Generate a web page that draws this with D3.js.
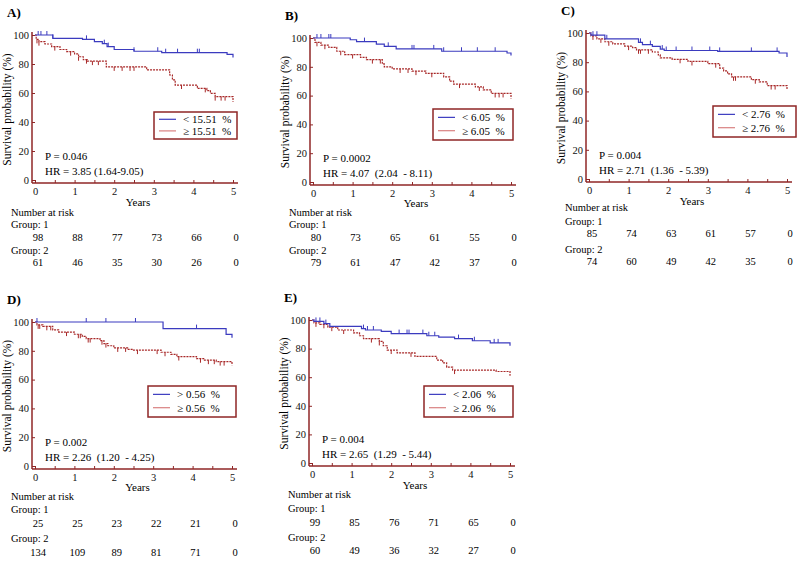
<!DOCTYPE html>
<html>
<head>
<meta charset="utf-8">
<script src="https://cdn.jsdelivr.net/npm/d3@7"></script>
<style>
  body { margin: 0; background: #fff; }
  svg, svg text { font-family: "Liberation Serif", "Times New Roman", serif; }
</style>
</head>
<body>
<script>
// x ticks (years) and y ticks (%)
const years = [0, 1, 2, 3, 4, 5];
const yTicks = [0, 20, 40, 60, 80, 100];

// A)
const aTime1 = [0, 0.45, 1.2, 1.5, 1.7, 1.82, 2.0, 2.5, 3.2, 4.85, 5];
const aSurv1 = [100, 97.7, 97, 95.5, 94, 92, 90, 88.8, 87.8, 86.7, 84.5];
const aCens1 = [0.08, 0.15, 0.3, 0.45, 1.3, 1.75, 1.85, 2.5, 3.1, 3.3, 3.6, 4.1, 4.15];
const aTime2 = [0, 0.03, 0.1, 0.25, 0.42, 0.63, 0.8, 1.0, 1.1, 1.22, 1.32, 1.8, 2.82, 3.4, 3.47, 3.54, 4.1, 4.34, 4.43, 4.55, 5];
const aSurv2 = [100, 97, 95.4, 93.8, 92, 90, 88.5, 87, 85, 83, 82, 78, 75.9, 72.4, 69, 65.5, 63.2, 61.6, 59.8, 57.5, 54];
const aCens2 = [0.05, 0.1, 0.5, 0.9, 1.1, 1.3, 1.45, 1.6, 2.0, 2.2, 2.4, 2.5, 3.7, 4.3, 4.55, 4.7, 4.8];
const aRisk1 = [98, 88, 77, 73, 66, 0];
const aRisk2 = [61, 46, 35, 30, 26, 0];
const aLegend = ["< 15.51  %", "\u2265 15.51  %"];
const aStats = ["P = 0.046", "HR = 3.85 (1.64-9.05)"];

// B)
const bTime1 = [0, 0.94, 1.1, 1.6, 1.8, 2.1, 3.25, 4.9, 5];
const bSurv1 = [100, 98.8, 97.5, 95.8, 94.2, 92.4, 90.8, 89.6, 87.8];
const bCens1 = [0.1, 0.2, 0.4, 0.45, 1.3, 1.9, 2.5, 2.55, 3.05, 3.3, 3.75, 4.15, 4.6];
const bTime2 = [0, 0.05, 0.2, 0.4, 0.6, 0.8, 1.2, 1.35, 1.75, 1.8, 2.0, 2.5, 2.85, 3.3, 3.45, 3.55, 4.1, 4.3, 4.5, 5];
const bSurv2 = [100, 97, 95, 93.5, 90.8, 88.5, 86.5, 85, 82, 80, 78.5, 77, 75.5, 73, 70, 68, 66, 64, 61.5, 58];
const bCens2 = [0.1, 0.3, 0.7, 1.0, 1.5, 1.7, 2.2, 2.4, 2.6, 3.0, 3.7, 4.2, 4.6, 4.7, 4.8];
const bRisk1 = [80, 73, 65, 61, 55, 0];
const bRisk2 = [79, 61, 47, 42, 37, 0];
const bLegend = ["< 6.05  %", "\u2265 6.05  %"];
const bStats = ["P = 0.0002", "HR = 4.07  (2.04  - 8.11)"];

// C)
const cTime1 = [0, 0.05, 0.4, 1.25, 1.35, 1.6, 1.8, 1.9, 3.25, 4.8, 5];
const cSurv1 = [100, 98.5, 96, 93.6, 92, 90.8, 89, 88, 87.4, 86.3, 83.5];
const cCens1 = [0.1, 0.2, 0.45, 1.3, 1.55, 1.85, 1.95, 2.2, 2.6, 3.05, 3.3, 4.1, 4.75];
const cTime2 = [0, 0.05, 0.2, 0.4, 0.6, 0.9, 1.1, 1.2, 1.6, 1.75, 1.8, 2.1, 2.5, 3.0, 3.3, 3.4, 3.5, 3.6, 4.1, 4.3, 4.5, 5];
const cSurv2 = [100, 98, 96, 94, 92.5, 91, 90, 88.5, 87, 85, 83, 82, 80.5, 79, 76, 74, 72, 70, 68, 66.5, 64, 61];
const cCens2 = [0.1, 0.3, 0.5, 1.0, 1.25, 1.3, 1.5, 2.3, 2.6, 3.2, 3.65, 3.7, 4.2, 4.6, 4.7];
const cRisk1 = [85, 74, 63, 61, 57, 0];
const cRisk2 = [74, 60, 49, 42, 35, 0];
const cLegend = ["< 2.76  %", "\u2265 2.76  %"];
const cStats = ["P = 0.004", "HR = 2.71  (1.36  - 5.39)"];

// D)
const dTime1 = [0, 3.25, 4.85, 5];
const dSurv1 = [100, 95.4, 91.4, 89];
const dCens1 = [0.05, 1.3, 1.8, 2.55, 4.1];
const dTime2 = [0, 0.05, 0.2, 0.45, 0.6, 1.0, 1.2, 1.3, 1.65, 1.75, 1.85, 2.0, 2.35, 2.5, 3.2, 3.45, 3.6, 4.1, 4.3, 4.6, 5];
const dSurv2 = [100, 98, 97, 94.5, 93, 91.5, 90, 88.5, 87, 85, 83.5, 82, 81, 80.5, 79, 77.5, 76, 74.5, 73.5, 72.5, 70];
const dCens2 = [0.08, 0.12, 0.3, 0.4, 0.8, 1.1, 1.15, 1.35, 1.4, 1.7, 1.8, 2.1, 2.3, 2.6, 3.1, 3.3, 3.65, 4.2, 4.4, 4.55, 4.7, 4.8];
const dRisk1 = [25, 25, 23, 22, 21, 0];
const dRisk2 = [134, 109, 89, 81, 71, 0];
const dLegend = ["> 0.56  %", "\u2265 0.56  %"];
const dStats = ["P = 0.002", "HR = 2.26  (1.20  - 4.25)"];

// E)
const eTime1 = [0, 0.05, 0.3, 0.45, 1.25, 1.35, 1.75, 2.0, 2.9, 3.2, 3.6, 4.05, 4.5, 5];
const eSurv1 = [100, 99, 97.5, 95.5, 94, 93, 92, 90.5, 89, 88, 87, 85.5, 84, 82];
const eCens1 = [0.1, 0.2, 0.35, 1.3, 1.4, 1.55, 2.2, 2.4, 2.45, 2.8, 2.95, 3.1, 3.7, 4.1, 4.6, 4.7];
const eTime2 = [0, 0.05, 0.2, 0.4, 0.65, 1.05, 1.2, 1.3, 1.7, 1.8, 1.9, 2.15, 2.6, 3.15, 3.3, 3.4, 3.55, 4.65, 5];
const eSurv2 = [100, 98, 97, 95, 93, 91, 89, 87, 85, 82, 79, 77, 74.5, 72, 70, 67, 65, 64, 61];
const eCens2 = [0.1, 0.3, 0.5, 0.8, 1.5, 1.7, 2.0, 2.5, 3.6];
const eRisk1 = [99, 85, 76, 71, 65, 0];
const eRisk2 = [60, 49, 36, 32, 27, 0];
const eLegend = ["< 2.06  %", "\u2265 2.06  %"];
const eStats = ["P = 0.004", "HR = 2.65  (1.29  - 5.44)"];

const BLUE = "#3b3bbf", RED = "#a82828", AXIS = "#8f2626";

const W = 798, H = 561;
const svg = d3.select("body").append("svg")
  .attr("width", W)
  .attr("height", H)
  .attr("font-family", "Liberation Serif, serif");

// placement of each panel on the page; rows = baselines of Years, Number at risk,
// Group 1, group 1 counts, Group 2, group 2 counts
const panels = [
  {label: "A)", x0: 35, x5: 233, y100: 35, y0: 180, box: [154, 112, 83, 27], rows: [206, 216, 228, 241, 254, 266],
   t1: aTime1, s1: aSurv1, c1: aCens1, t2: aTime2, s2: aSurv2, c2: aCens2, r1: aRisk1, r2: aRisk2, leg: aLegend, st: aStats},
  {label: "B)", x0: 313, x5: 511, y100: 38, y0: 182, box: [433, 109, 80, 31], rows: [207, 216, 228, 241, 254, 266],
   t1: bTime1, s1: bSurv1, c1: bCens1, t2: bTime2, s2: bSurv2, c2: bCens2, r1: bRisk1, r2: bRisk2, leg: bLegend, st: bStats},
  {label: "C)", x0: 589, x5: 787, y100: 33, y0: 179, box: [713, 106, 83, 31], rows: [205, 211, 225, 237, 253, 265],
   t1: cTime1, s1: cSurv1, c1: cCens1, t2: cTime2, s2: cSurv2, c2: cCens2, r1: cRisk1, r2: cRisk2, leg: cLegend, st: cStats},
  {label: "D)", x0: 35, x5: 232, y100: 322, y0: 466, box: [148, 386, 88, 31], rows: [491, 500, 513, 527, 542, 556],
   t1: dTime1, s1: dSurv1, c1: dCens1, t2: dTime2, s2: dSurv2, c2: dCens2, r1: dRisk1, r2: dRisk2, leg: dLegend, st: dStats},
  {label: "E)", x0: 312, x5: 510, y100: 320, y0: 463, box: [424, 386, 89, 31], rows: [489, 498, 512, 526, 541, 554],
   t1: eTime1, s1: eSurv1, c1: eCens1, t2: eTime2, s2: eSurv2, c2: eCens2, r1: eRisk1, r2: eRisk2, leg: eLegend, st: eStats}
];

panels.forEach(drawPanel);

function drawPanel(p) {
  var g = svg.append("g");
  var x = d3.scaleLinear().domain([0, 5]).range([p.x0, p.x5]);
  var y = d3.scaleLinear().domain([0, 100]).range([p.y0, p.y100]);
  var axX = p.x0 - 3, axY = p.y0 + 3;

  g.append("text")
    .attr("x", p.x0 - 28).attr("y", p.y100 - 18)
    .attr("font-size", 13).attr("font-weight", "bold")
    .text(p.label);

  // axes
  var yAxis = d3.axisLeft(y).tickValues(yTicks).tickSizeInner(-3).tickSizeOuter(0).tickPadding(3);
  var gy = g.append("g").attr("transform", "translate(" + axX + ",0)").call(yAxis);
  var xAxis = d3.axisBottom(x).tickValues(d3.range(0, 5.01, 0.5))
    .tickFormat(function(d) { return d % 1 === 0 ? d : ""; })
    .tickSizeInner(-3).tickSizeOuter(0).tickPadding(5);
  var gx = g.append("g").attr("transform", "translate(0," + axY + ")").call(xAxis);
  [gx, gy].forEach(function(a) {
    a.attr("font-family", null).attr("font-size", null);
    a.select(".domain").remove();
    a.selectAll("line").attr("stroke", AXIS);
    a.selectAll("text").attr("font-size", 10.5).attr("fill", "#111");
  });
  g.append("line").attr("x1", axX).attr("x2", axX).attr("y1", p.y100 - 3).attr("y2", axY)
    .attr("stroke", AXIS).attr("stroke-width", 1.5);
  g.append("line").attr("x1", axX).attr("x2", p.x5 + 5).attr("y1", axY).attr("y2", axY)
    .attr("stroke", AXIS).attr("stroke-width", 1.5);

  g.append("text")
    .attr("transform", "translate(" + (p.x0 - 24) + "," + ((p.y0 + p.y100) / 2 + 2) + ") rotate(-90)")
    .attr("text-anchor", "middle").attr("font-size", 11.5)
    .text("Survival probability (%)");

  // curves
  var line = d3.line().curve(d3.curveStepAfter)
    .x(function(d) { return x(d[0]); })
    .y(function(d) { return y(d[1]); });
  var curves = [
    {t: p.t2, s: p.s2, c: p.c2, color: RED, dash: "2,1", dir: 1},
    {t: p.t1, s: p.s1, c: p.c1, color: BLUE, dash: null, dir: -1}
  ];
  curves.forEach(function(cv) {
    var pts = cv.t.map(function(t, i) { return [t, cv.s[i]]; });
    g.append("path").datum(pts)
      .attr("d", line)
      .attr("fill", "none")
      .attr("stroke", cv.color)
      .attr("stroke-width", 1.2)
      .attr("stroke-dasharray", cv.dash);
    g.selectAll(null).data(cv.c).enter().append("line")
      .attr("x1", function(d) { return x(d); })
      .attr("x2", function(d) { return x(d); })
      .attr("y1", function(d) { return y(cv.s[d3.bisectRight(cv.t, d) - 1]); })
      .attr("y2", function(d) { return y(cv.s[d3.bisectRight(cv.t, d) - 1]) + cv.dir * 4; })
      .attr("stroke", cv.color).attr("stroke-width", 1);
  });

  // legend
  var b = p.box;
  g.append("rect").attr("x", b[0]).attr("y", b[1]).attr("width", b[2]).attr("height", b[3])
    .attr("fill", "#fff").attr("stroke", AXIS).attr("stroke-width", 1.5);
  [BLUE, "#d98080"].forEach(function(c, i) {
    var ly = b[1] + b[3] * (i === 0 ? 0.27 : 0.7);
    g.append("line").attr("x1", b[0] + 5).attr("x2", b[0] + 22).attr("y1", ly).attr("y2", ly)
      .attr("stroke", c).attr("stroke-width", 1.2);
    g.append("text").attr("x", b[0] + 29).attr("y", ly + 4)
      .attr("font-size", 11).style("white-space", "pre")
      .text(p.leg[i]);
  });

  // stats
  g.append("text").attr("x", p.x0 + 10).attr("y", p.y0 - 20).attr("font-size", 11)
    .style("white-space", "pre").text(p.st[0]);
  g.append("text").attr("x", p.x0 + 10).attr("y", p.y0 - 5).attr("font-size", 11)
    .style("white-space", "pre").text(p.st[1]);

  // years + number at risk
  var r = p.rows;
  g.append("text").attr("x", (p.x0 + p.x5) / 2 + 4).attr("y", r[0])
    .attr("text-anchor", "middle").attr("font-size", 11).text("Years");
  [["Number at risk", r[1]], ["Group: 1", r[2]], ["Group: 2", r[4]]].forEach(function(t) {
    g.append("text").attr("x", p.x0 - 24).attr("y", t[1])
      .attr("font-size", 10.5).text(t[0]);
  });
  [[p.r1, r[3]], [p.r2, r[5]]].forEach(function(row) {
    g.selectAll(null).data(row[0]).enter().append("text")
      .attr("x", function(d, i) { return x(years[i]) + 3; })
      .attr("y", row[1])
      .attr("text-anchor", "middle").attr("font-size", 10.5)
      .text(function(d) { return d; });
  });
}
</script>
</body>
</html>
